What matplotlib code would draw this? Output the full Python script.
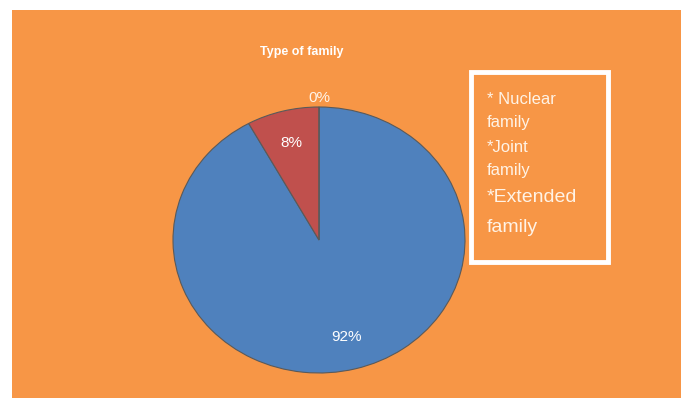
import matplotlib.pyplot as plt
from matplotlib.patches import Rectangle

# data
categories = ['Nuclear family', 'Joint family', 'Extended family']
shares = [92, 8, 0]
colors = ['#4F81BD', '#C0504D', '#9BBB59']
legend_lines = ['* Nuclear', 'family', '*Joint', 'family', '*Extended', 'family']
legend_sizes = [12, 12, 12, 12, 14, 14]

W, H = 689, 407
fig = plt.figure(figsize=(W / 100, H / 100), dpi=100)
fig.patch.set_facecolor('white')

# orange chart area (behind everything)
fig.patches.append(Rectangle((12 / W, 1 - 398 / H), 669 / W, 388 / H,
                             transform=fig.transFigure, facecolor='#F79646',
                             edgecolor='none', zorder=-5))

fig.text(302 / W, 1 - 52 / H, 'Type of family', ha='center', va='center',
         color='white', fontsize=9, fontweight='bold', family='Liberation Sans')

# pie is drawn a bit squashed (ellipse)
cx, cy, rx, ry = 319, 240, 146, 133
ax = fig.add_axes([(cx - rx) / W, 1 - (cy + ry) / H, 2 * rx / W, 2 * ry / H])
ax.patch.set_alpha(0)


def fmt(p):
    return '' if p < 0.5 else '%d%%' % round(p)


wedges, texts, autotexts = ax.pie(
    shares, colors=colors, startangle=90, counterclock=False,
    labels=['', '', '0%'], labeldistance=1.07,
    autopct=fmt, pctdistance=0.75,
    wedgeprops=dict(edgecolor='#5a5a5a', linewidth=0.8),
    textprops=dict(color='white', fontsize=11, family='Liberation Sans'))
texts[2].set_ha('center')
texts[2].set_color('#FFF3E8')
ax.set_aspect('auto')
ax.set_xlim(-1, 1)
ax.set_ylim(-1, 1)
ax.axis('off')

# text box on the right
fig.patches.append(Rectangle((471 / W, 1 - 262 / H), 137 / W, 190 / H,
                             transform=fig.transFigure, facecolor='none',
                             edgecolor='white', linewidth=3.5, zorder=3))
ys = [100, 123, 147, 170, 197, 228]
for line, y, s in zip(legend_lines, ys, legend_sizes):
    fig.text(487 / W, 1 - y / H, line, ha='left', va='center', color='#FFF3E6',
             fontsize=s, family='Liberation Sans')

fig.savefig('out.png', dpi=100, facecolor=fig.get_facecolor())
